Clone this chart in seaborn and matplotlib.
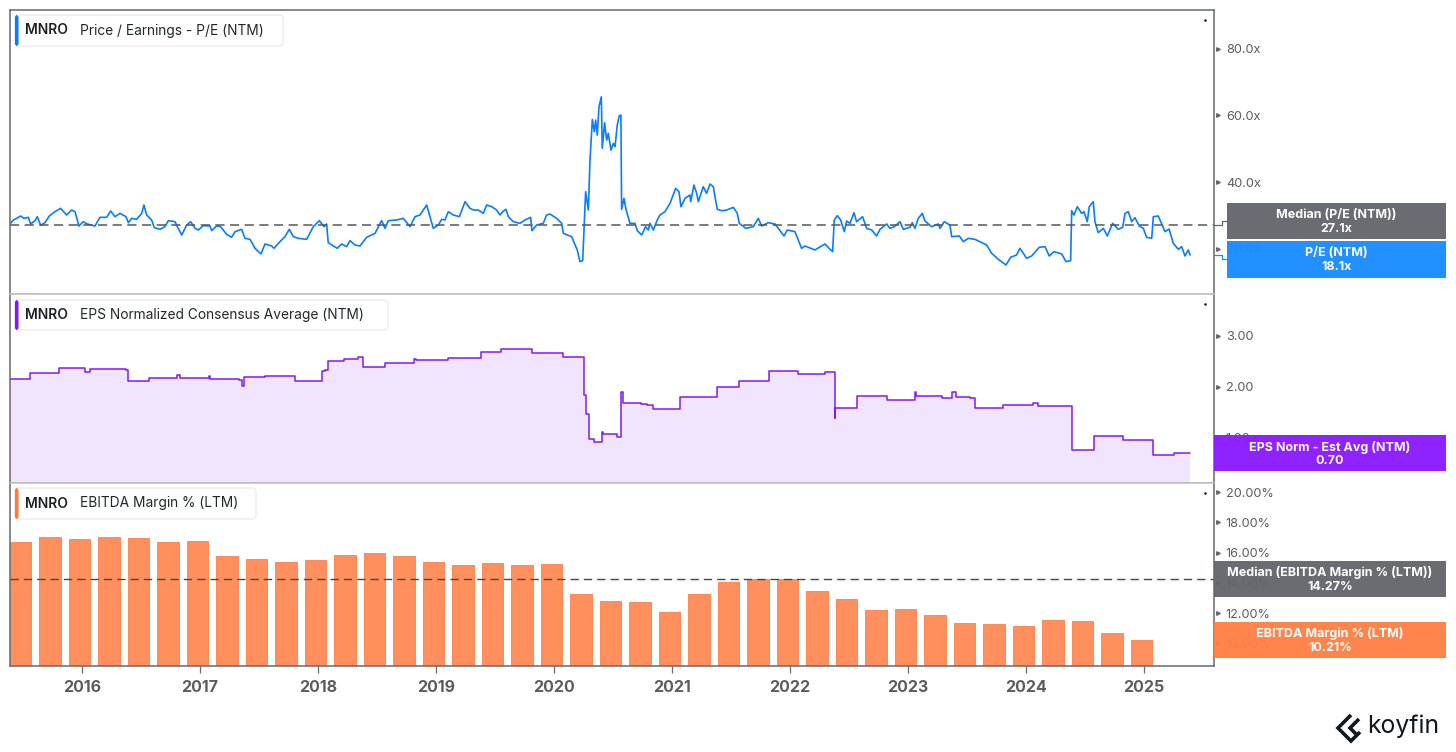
import numpy as np
import pandas as pd
import matplotlib.pyplot as plt
import seaborn as sns
from matplotlib.patches import FancyBboxPatch, Rectangle

# ==================================
# DATA
# ==================================

pe_years = [
    2015.39, 2015.418, 2015.446, 2015.48, 2015.508, 2015.545, 2015.565, 2015.602, 2015.621, 2015.65,
    2015.686, 2015.723, 2015.771, 2015.819, 2015.87, 2015.912, 2015.941, 2015.974, 2016.011, 2016.045,
    2016.11, 2016.152, 2016.209, 2016.243, 2016.28, 2016.322, 2016.373, 2016.393, 2016.421, 2016.463,
    2016.506, 2016.525, 2016.548, 2016.59, 2016.613, 2016.661, 2016.703, 2016.732, 2016.788, 2016.808,
    2016.845, 2016.887, 2016.921, 2016.958, 2016.986, 2017.028, 2017.085, 2017.099, 2017.141, 2017.175,
    2017.226, 2017.268, 2017.297, 2017.353, 2017.381, 2017.424, 2017.466, 2017.517, 2017.551, 2017.607,
    2017.627, 2017.678, 2017.72, 2017.757, 2017.791, 2017.833, 2017.904, 2017.96, 2018.011, 2018.051,
    2018.073, 2018.087, 2018.13, 2018.164, 2018.2, 2018.243, 2018.271, 2018.313, 2018.356, 2018.412,
    2018.483, 2018.539, 2018.568, 2018.596, 2018.667, 2018.723, 2018.78, 2018.822, 2018.864, 2018.921,
    2018.949, 2018.977, 2019.02, 2019.048, 2019.076, 2019.104, 2019.147, 2019.198, 2019.246, 2019.288,
    2019.316, 2019.359, 2019.401, 2019.429, 2019.472, 2019.514, 2019.542,
    2019.565, 2019.593, 2019.613, 2019.655, 2019.711, 2019.754, 2019.802, 2019.813, 2019.853, 2019.909,
    2019.937, 2019.966, 2020.022, 2020.065, 2020.079, 2020.149, 2020.197, 2020.22, 2020.243, 2020.268,
    2020.291, 2020.305, 2020.325, 2020.341, 2020.353, 2020.367, 2020.381, 2020.401, 2020.409, 2020.429,
    2020.446, 2020.46, 2020.483, 2020.503, 2020.517, 2020.536, 2020.553, 2020.567, 2020.573, 2020.593,
    2020.61, 2020.644, 2020.686, 2020.706, 2020.743, 2020.776, 2020.799, 2020.813, 2020.842, 2020.875,
    2020.898, 2020.94, 2020.983, 2021.031, 2021.059, 2021.076, 2021.11, 2021.152, 2021.158, 2021.186,
    2021.209, 2021.223, 2021.265, 2021.293, 2021.322, 2021.35, 2021.364, 2021.384, 2021.421, 2021.463,
    2021.52, 2021.553, 2021.57, 2021.627, 2021.689, 2021.731, 2021.76, 2021.816, 2021.873, 2021.921,
    2021.949, 2021.977, 2022.042, 2022.076, 2022.098, 2022.127, 2022.211, 2022.296, 2022.339, 2022.361,
    2022.375, 2022.401, 2022.429, 2022.46, 2022.48, 2022.508,
    2022.542, 2022.564, 2022.615, 2022.649, 2022.692, 2022.734, 2022.762, 2022.819, 2022.847, 2022.884,
    2022.932, 2022.96, 2023.016, 2023.036, 2023.059, 2023.087, 2023.121, 2023.144, 2023.2, 2023.257,
    2023.271, 2023.307, 2023.355, 2023.37, 2023.435, 2023.468, 2023.511, 2023.567, 2023.666, 2023.709,
    2023.765, 2023.83, 2023.87, 2023.92, 2023.949, 2024.005, 2024.048, 2024.112, 2024.161, 2024.197,
    2024.237, 2024.302, 2024.339, 2024.378, 2024.387, 2024.406, 2024.435, 2024.471, 2024.491, 2024.519,
    2024.536, 2024.57, 2024.584, 2024.612, 2024.655, 2024.689, 2024.734, 2024.782, 2024.819, 2024.839,
    2024.867, 2024.895, 2024.923, 2024.96, 2024.994, 2025.022, 2025.065, 2025.079, 2025.121, 2025.178,
    2025.212, 2025.248, 2025.291, 2025.319, 2025.347, 2025.375, 2025.39,
]

pe_values = [
    27.4, 28.6, 29.1, 29.8, 29.1, 29.4, 27.4, 28.4, 29.6, 27.0,
    27.8, 29.8, 31.1, 32.1, 30.1, 31.6, 31.1, 26.8, 28.1, 27.4,
    26.8, 29.4, 29.4, 31.3, 29.6, 30.6, 29.6, 27.8, 29.1, 28.8,
    30.6, 33.1, 30.1, 28.6, 26.3, 25.8, 26.6, 28.4, 28.1, 26.6,
    24.1, 27.1, 28.1, 26.1, 25.6, 26.9, 26.8, 25.4, 26.8, 26.6,
    24.3, 23.4, 25.1, 25.8, 23.1, 22.8, 20.1, 18.4, 21.4, 20.8,
    20.1, 22.1, 23.6, 25.8, 23.6, 23.1, 22.8, 26.6, 28.4, 26.6,
    27.4, 21.8, 20.8, 20.1, 21.4, 20.6, 22.4, 21.1, 20.8, 23.4,
    24.6, 28.4, 26.1, 28.4, 28.6, 29.1, 26.6, 29.6, 30.1, 33.1,
    29.6, 26.1, 27.1, 28.8, 28.6, 31.1, 30.1, 29.6, 34.1, 32.1,
    31.6, 31.6, 30.6, 33.1, 32.6, 31.6, 30.1,
    31.1, 31.8, 29.6, 28.1, 27.6, 28.6, 29.4, 25.4, 27.1, 27.6,
    30.1, 30.4, 29.1, 27.6, 24.6, 23.6, 19.6, 16.1, 16.4, 37.1,
    31.6, 46.6, 58.8, 55.1, 58.6, 54.1, 62.6, 65.6, 50.1, 57.8,
    52.6, 54.6, 49.6, 51.6, 50.6, 57.1, 59.9, 60.1, 31.8, 35.1,
    31.8, 27.6, 27.6, 25.4, 24.1, 26.6, 25.6, 27.6, 25.6, 28.6,
    30.1, 31.1, 33.6, 38.1, 37.1, 32.6, 35.1, 36.1, 34.1, 39.1,
    36.6, 34.1, 38.6, 36.6, 39.4, 38.6, 35.6, 31.8, 31.4, 31.6,
    32.4, 30.6, 27.6, 26.1, 26.6, 29.1, 26.8, 27.8, 27.4, 25.1,
    23.8, 25.6, 25.1, 22.1, 20.1, 20.8, 19.6, 21.4, 19.8, 19.1,
    28.6, 29.9, 28.6, 25.1, 28.3, 27.6,
    30.8, 28.1, 29.6, 26.1, 25.6, 23.8, 25.8, 27.4, 26.1, 26.6,
    28.1, 25.8, 26.4, 27.8, 26.1, 29.1, 30.6, 28.3, 26.6, 27.4,
    26.1, 28.1, 27.1, 23.6, 23.8, 22.1, 23.1, 22.8, 21.1, 18.6,
    16.8, 15.1, 17.4, 18.1, 20.1, 17.1, 17.8, 20.4, 20.6, 17.8,
    19.1, 18.4, 16.1, 16.4, 31.4, 30.1, 32.6, 30.6, 31.1, 28.1,
    32.6, 34.1, 28.1, 24.8, 26.1, 23.8, 27.6, 25.8, 26.4, 30.6,
    31.1, 28.1, 29.3, 26.8, 26.1, 23.4, 23.1, 29.6, 29.8, 25.1,
    25.9, 21.6, 19.8, 20.6, 17.8, 19.6, 18.1,
]
pe_median = 27.1

# change dates of the step line and the level held from each one
eps_years = [
    2015.39, 2015.558, 2015.808, 2016.025, 2016.038, 2016.067, 2016.375, 2016.392, 2016.57, 2016.804,
    2016.829, 2017.073, 2017.089, 2017.332, 2017.36, 2017.374, 2017.55, 2017.809, 2018.036, 2018.062,
    2018.085, 2018.224, 2018.338, 2018.38, 2018.565, 2018.815, 2018.834, 2019.1, 2019.385, 2019.554,
    2019.814, 2020.073, 2020.252, 2020.268, 2020.3, 2020.339, 2020.406, 2020.416, 2020.538, 2020.571,
    2020.581, 2020.736, 2020.786, 2020.842, 2021.066, 2021.379, 2021.57, 2021.818, 2022.065, 2022.296,
    2022.378, 2022.385, 2022.566, 2022.82, 2023.061, 2023.071, 2023.291, 2023.374, 2023.407, 2023.522,
    2023.565, 2023.809, 2024.06, 2024.099, 2024.389, 2024.577, 2024.824, 2025.072, 2025.253, 2025.392,
]
eps_values = [
    2.16, 2.26, 2.37, 2.28, 2.28, 2.34, 2.33, 2.12, 2.18, 2.23,
    2.18, 2.22, 2.16, 2.13, 2.02, 2.20, 2.22, 2.12, 2.31, 2.33,
    2.51, 2.54, 2.58, 2.39, 2.46, 2.54, 2.52, 2.57, 2.68, 2.74,
    2.66, 2.58, 1.84, 1.47, 0.97, 0.92, 1.11, 1.07, 1.02, 1.90,
    1.69, 1.67, 1.64, 1.57, 1.80, 1.99, 2.11, 2.31, 2.24, 2.28,
    1.38, 1.59, 1.82, 1.74, 1.89, 1.81, 1.77, 1.90, 1.79, 1.77,
    1.59, 1.64, 1.69, 1.62, 0.75, 1.03, 0.96, 0.65, 0.70, 0.70,
]

bar_years = [
    2015.48, 2015.73, 2015.98, 2016.23, 2016.48, 2016.73, 2016.98, 2017.23, 2017.48, 2017.73,
    2017.98, 2018.23, 2018.48, 2018.73, 2018.98, 2019.23, 2019.48, 2019.73, 2019.98, 2020.23,
    2020.48, 2020.73, 2020.98, 2021.23, 2021.48, 2021.73, 2021.98, 2022.23, 2022.48, 2022.73,
    2022.98, 2023.23, 2023.48, 2023.73, 2023.98, 2024.23, 2024.48, 2024.73, 2024.98,
]
bar_values = [
    16.68, 17.03, 16.90, 17.01, 16.96, 16.70, 16.75, 15.77, 15.55, 15.38,
    15.53, 15.84, 15.97, 15.77, 15.36, 15.18, 15.33, 15.16, 15.22, 13.26,
    12.79, 12.75, 12.08, 13.28, 14.07, 14.27, 14.27, 13.47, 12.93, 12.22,
    12.26, 11.87, 11.32, 11.29, 11.14, 11.53, 11.45, 10.69, 10.21,
]
margin_median = 14.27

x_ticks = [2016, 2017, 2018, 2019, 2020, 2021, 2022, 2023, 2024, 2025]
pe_ticks = [20, 40, 60, 80]
pe_tick_labels = ["20.0x", "40.0x", "60.0x", "80.0x"]
eps_ticks = [1, 2, 3]
eps_tick_labels = ["1.00", "2.00", "3.00"]
margin_ticks = [10, 12, 14, 16, 18, 20]
margin_tick_labels = ["10.00%", "12.00%", "14.00%", "16.00%", "18.00%", "20.00%"]

# ==================================
# STYLE
# ==================================

W, H = 1456, 752
BLUE = "#0a7cff"
PURPLE = "#7f1cf5"
ORANGE = "#ff8f5c"
FRAME = "#666a6e"
SEP = "#bdbdbd"
TEXT = "#5c5c5c"

sns.set_theme(style="white")
plt.rcParams["font.family"] = ["Inter", "DejaVu Sans"]

fig = plt.figure(figsize=(W / 100, H / 100), dpi=100, facecolor="white")


def panel(x0, y0, x1, y1):
    return fig.add_axes([x0 / W, 1 - y1 / H, (x1 - x0) / W, (y1 - y0) / H])


def style_panel(ax, ylim, ticks, labels, top_color, bottom_color):
    ax.set_xlim(2015.39, 2025.593)
    ax.set_ylim(*ylim)
    ax.set_xlabel("")
    ax.set_ylabel("")
    ax.yaxis.tick_right()
    ax.set_yticks(ticks)
    ax.set_yticklabels(labels, color=TEXT, fontsize=9.2)
    ax.tick_params(axis="y", length=0, pad=8.5)
    ax.plot([1.0035] * len(ticks), ticks, transform=ax.get_yaxis_transform(),
            ls="", marker=">", ms=2.6, color=FRAME, clip_on=False)
    ax.grid(False)
    for side in ["left", "right"]:
        ax.spines[side].set_color(FRAME)
        ax.spines[side].set_linewidth(1.1)
    ax.spines["top"].set_color(top_color)
    ax.spines["bottom"].set_color(bottom_color)
    ax.spines["top"].set_linewidth(1.1)
    ax.spines["bottom"].set_linewidth(1.1)


# ==================================
# P/E PANEL
# ==================================

pe_df = pd.DataFrame({"year": pe_years, "pe": pe_values})

ax1 = panel(10, 10, 1214, 294)
sns.lineplot(data=pe_df, x="year", y="pe", ax=ax1, color=BLUE, linewidth=1.2,
             estimator=None, errorbar=None)
ax1.axhline(pe_median, color="#55585c", linewidth=1.1, dashes=(6, 3.6))
style_panel(ax1, (6.38, 91.66), pe_ticks, pe_tick_labels, FRAME, SEP)
ax1.set_xticks([])

# ==================================
# EPS PANEL
# ==================================

eps_df = pd.DataFrame({"year": eps_years, "eps": eps_values})

ax2 = panel(10, 294, 1214, 483)
ax2.fill_between(eps_years, eps_values, 0, step="post", color="#f0e5fd", linewidth=0)
sns.lineplot(data=eps_df, x="year", y="eps", ax=ax2, color=PURPLE, linewidth=1.1,
             estimator=None, errorbar=None, drawstyle="steps-post")
style_panel(ax2, (0.11, 3.82), eps_ticks, eps_tick_labels, SEP, SEP)
ax2.set_xticks([])

# ==================================
# EBITDA MARGIN PANEL
# ==================================

ax3 = panel(10, 483, 1214, 666)
sns.barplot(x=bar_years, y=bar_values, ax=ax3, native_scale=True, width=0.73,
            color=ORANGE, saturation=1, edgecolor="#ff7f45", linewidth=0.6)
ax3.axhline(margin_median, color="#45484c", linewidth=1.0, dashes=(6, 3.6))
style_panel(ax3, (8.49, 20.61), margin_ticks, margin_tick_labels, SEP, FRAME)
ax3.set_xticks(x_ticks)
ax3.set_xticklabels(x_ticks, color=TEXT, fontsize=11.5, fontweight="bold")
ax3.tick_params(axis="x", length=5, width=0.9, color=FRAME, pad=5, bottom=True)

# ==================================
# OVERLAY: LEGENDS, VALUE BOXES, LOGO (pixel coordinates)
# ==================================

ov = fig.add_axes([0, 0, 1, 1], facecolor="none")
ov.set_xlim(0, W)
ov.set_ylim(H, 0)
ov.axis("off")

legends = [
    (15, 15, 283, 46, BLUE, "Price / Earnings - P/E (NTM)"),
    (15, 300, 388, 330, PURPLE, "EPS Normalized Consensus Average (NTM)"),
    (15, 488, 256, 519, "#ff7a3d", "EBITDA Margin % (LTM)"),
]
for x0, y0, x1, y1, col, label in legends:
    ov.add_patch(FancyBboxPatch((x0, y0), x1 - x0, y1 - y0, boxstyle="round,pad=0,rounding_size=4",
                                fc="white", ec="#ececec", lw=1))
    ov.add_patch(FancyBboxPatch((x0 + 0.5, y0 + 1), 2.5, y1 - y0 - 2, boxstyle="round,pad=0,rounding_size=1.5",
                                fc=col, ec=col, lw=0.8))
    ym = (y0 + y1) / 2
    ov.text(24.5, ym, "MNRO", fontsize=10, fontweight="semibold", color="#1c2025", va="center")
    ov.text(80, ym, label, fontsize=9.9, color="#23272c", va="center")

boxes = [
    (1227, 202.5, 1446, 239, "#63666a", "Median (P/E (NTM))", "27.1x"),
    (1227, 241, 1446, 277.5, "#1a8cff", "P/E (NTM)", "18.1x"),
    (1214, 435, 1446, 471, "#8a1aff", "EPS Norm - Est Avg (NTM)", "0.70"),
    (1214, 560.5, 1446, 596.5, "#63666a", "Median (EBITDA Margin % (LTM))", "14.27%"),
    (1214, 622, 1446, 658, "#ff8045", "EBITDA Margin % (LTM)", "10.21%"),
]
for x0, y0, x1, y1, col, line1, line2 in boxes:
    ov.add_patch(Rectangle((x0, y0), x1 - x0, y1 - y0, fc=col, ec="none", alpha=0.96))
    xm = (x0 + x1) / 2
    ov.text(xm, y0 + 12, line1, color="white", fontsize=9, fontweight="bold", ha="center", va="center")
    ov.text(xm, y0 + 26, line2, color="white", fontsize=9, fontweight="bold", ha="center", va="center")

# connectors from the axis to the two offset boxes
ov.plot([1214, 1222, 1222, 1227], [225, 225, 221, 221], color="#63666a", lw=0.9)
ov.plot([1214, 1222, 1222, 1227], [255, 255, 259, 259], color="#1a8cff", lw=0.9)

# small marks in the top right of each panel
ov.plot([1205, 1205, 1205], [20, 304, 492.5], ls="", marker="s", ms=0.8, color="#222222")

# koyfin logo
for pts in [
    [(1351, 715), (1338, 728), (1351, 741), (1360, 732)],
    [(1359, 719), (1350, 728), (1356, 734)],
]:
    xs, ys = zip(*pts)
    ov.plot(xs, ys, color="#12181f", lw=2.6, solid_joinstyle="miter", solid_capstyle="butt")
ov.text(1367, 726, "koyfin", fontsize=17.8, color="#12181f", va="center", ha="left")

fig.savefig("out.png", dpi=100)
